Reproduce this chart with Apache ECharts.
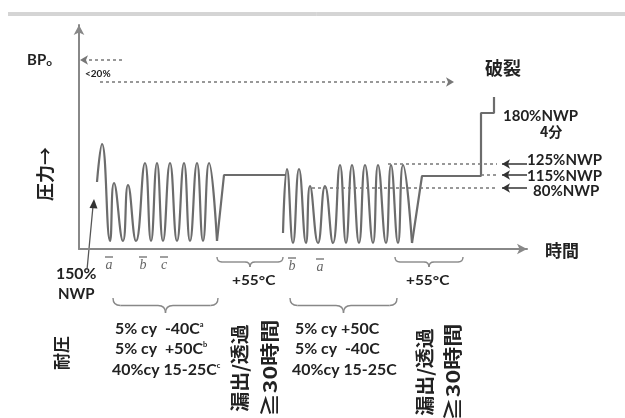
<!DOCTYPE html>
<html>
<head>
<meta charset="utf-8">
<script src="https://cdn.jsdelivr.net/npm/echarts@6/dist/echarts.min.js"></script>
<style>
html,body{margin:0;padding:0;background:#fff}
#main{width:625px;height:418px}
</style>
</head>
<body>
<div id="main"></div>
<script>
// 圧力サイクル試験の模式図（時間・圧力は任意単位）
var cycle1 = [[18,67],[23,105],[31,8],[35,66],[44,8],[49,64],[57,8],[66,86],[72,8],[78,86],[84,8],[91,86],[98,8],[105,86],[111,8],[118,86],[124,8],[130,86],[138,8]];
var hold1 = [[138,8],[145,74],[206,74]];
var cycle2 = [[204,16],[208,80],[214,6],[220,80],[227,6],[231,63],[239,6],[246,63],[254,6],[261,84],[267,6],[273,84],[280,6],[286,84],[294,6],[299,84],[307,6],[312,84],[319,6],[324,84],[333,6]];
var hold2 = [[333,6],[343,73],[402,73],[402,136],[415,136],[415,152]];

// 基準レベル 125% / 115% / 80% NWP
var levelNames = ['125%NWP', '115%NWP', '80%NWP'];
var levelValues = [85, 74, 61];
var levelFrom = [309, 402, 233];
var levelTo = 418;
var arrowFrom = 448, arrowTo = 423;

// BPo と <20% の破線矢印
var bpLevel = 189, bpFrom = 43, bpTo = 1;
var burstLevel = 167, burstFrom = 21, burstTo = 375;

var GRAY = '#6c6c6c';
var INK = '#222';
var LAT = 'Lato, "Noto Sans", sans-serif';
var CJK = '"Noto Sans CJK JP", sans-serif';

function seg(x1, x2, y, head) {
    return [{coord: [x1, y], symbol: 'none'}, {coord: [x2, y], symbol: head ? 'arrow' : 'none'}];
}

var dashed = [];
for (var i = 0; i < levelValues.length; i++) {
    dashed.push(seg(levelFrom[i], levelTo, levelValues[i], false));
}
dashed.push(seg(bpFrom, bpTo, bpLevel, true));
dashed.push(seg(burstFrom, burstTo, burstLevel, true));

var pointers = levelValues.map(function (v) { return seg(arrowFrom, arrowTo, v, true); });

// 文字
function txt(x, y, text, size, opt) {
    opt = opt || {};
    return {
        type: 'text', x: x, y: y, rotation: opt.rot || 0, scaleX: opt.sx || 1,
        silent: true,
        style: {
            text: text, fill: opt.color || INK,
            fontFamily: opt.family || LAT, fontSize: size,
            fontWeight: opt.weight || 'bold', fontStyle: opt.style || 'normal',
            align: opt.align || 'left', textAlign: opt.align || 'left',
            verticalAlign: 'middle', textVerticalAlign: 'middle',
            rich: opt.rich
        }
    };
}
var supRich = {
    m: {fontFamily: LAT, fontSize: 15, fontWeight: 'bold', fill: INK},
    s: {fontFamily: LAT, fontSize: 7, fontWeight: 'bold', fill: INK, verticalAlign: 'top', padding: [0, 0, 6, 0]}
};

// 中括弧
function brace(x1, x2, y, h) {
    var xm = (x1 + x2) / 2, r = h / 2;
    var st = {stroke: '#888', fill: null, lineWidth: 1.4};
    function q(ax, ay, cx, cy, bx, by) {
        return {type: 'bezierCurve', silent: true, shape: {x1: ax, y1: ay, cpx1: cx, cpy1: cy, x2: bx, y2: by}, style: st};
    }
    function l(ax, ay, bx, by) {
        return {type: 'line', silent: true, shape: {x1: ax, y1: ay, x2: bx, y2: by}, style: st};
    }
    return [
        q(x1, y, x1, y + r, x1 + r, y + r),
        l(x1 + r, y + r, xm - r, y + r),
        q(xm - r, y + r, xm, y + r, xm, y + h),
        q(xm, y + h, xm, y + r, xm + r, y + r),
        l(xm + r, y + r, x2 - r, y + r),
        q(x2 - r, y + r, x2, y + r, x2, y)
    ];
}
function barLetter(x, y, ch) {
    return [
        {type: 'line', silent: true, shape: {x1: x - 4, y1: y - 8, x2: x + 4, y2: y - 8}, style: {stroke: '#777', lineWidth: 1.4}},
        txt(x, y, ch, 14, {align: 'center', family: '"Liberation Serif", serif', style: 'italic', weight: 'normal', color: '#666'})
    ];
}

var R = Math.PI / 2;
var graphics = [
    {type: 'line', silent: true, shape: {x1: 8, y1: 13, x2: 625, y2: 13}, style: {stroke: '#aaa', lineWidth: 1}},
    {type: 'line', silent: true, shape: {x1: 8, y1: 15, x2: 625, y2: 15}, style: {stroke: '#aaa', lineWidth: 1}},
    txt(27, 60, '{b|BP}{o|o}', 15, {rich: {
        b: {fontFamily: LAT, fontSize: 15, fontWeight: 'bold', fill: INK},
        o: {fontFamily: LAT, fontSize: 10, fontWeight: 'bold', fill: INK, verticalAlign: 'bottom', padding: [6, 0, 0, 0]}
    }}),
    txt(85, 74, '<20%', 10),
    txt(485, 68, '破裂', 18, {family: CJK}),
    txt(503, 116, '180%NWP', 15),
    txt(540, 132, '4分', 14, {family: CJK}),
    txt(527, 160, levelNames[0], 15),
    txt(527, 176, levelNames[1], 15),
    txt(533, 191, levelNames[2], 15),
    txt(545, 251, '時間', 17, {family: CJK}),
    txt(56, 274, '150%', 15, {sx: 1.05}),
    txt(58, 294, 'NWP', 15),
    txt(45, 174, '圧力→', 18, {family: CJK, rot: R, align: 'center'}),
    txt(62, 353, '耐圧', 17, {family: CJK, rot: R, align: 'center'}),
    txt(240, 368, '漏出/透過', 19, {family: CJK, rot: R, align: 'center', sx: 1.05}),
    txt(270, 368, '≧30時間', 19, {family: CJK, rot: R, align: 'center', sx: 1.22}),
    txt(425, 372, '漏出/透過', 19, {family: CJK, rot: R, align: 'center', sx: 1.05}),
    txt(453, 372, '≧30時間', 19, {family: CJK, rot: R, align: 'center', sx: 1.22}),
    txt(232, 280, '+55°C', 14, {sx: 1.1}),
    txt(406, 280, '+55°C', 14, {sx: 1.1}),
    txt(115, 329, '{m|5% cy  -40C}{s|a}', 15, {rich: supRich, sx: 1.06}),
    txt(115, 349, '{m|5% cy  +50C}{s|b}', 15, {rich: supRich, sx: 1.06}),
    txt(112, 370, '{m|40%cy 15-25C}{s|c}', 15, {rich: supRich, sx: 1.06}),
    txt(295, 329, '5% cy +50C', 15, {sx: 1.06}),
    txt(295, 349, '5% cy  -40C', 15, {sx: 1.06}),
    txt(292, 370, '40%cy 15-25C', 15, {sx: 1.06}),
    {type: 'line', silent: true, shape: {x1: 87, y1: 270, x2: 93, y2: 206}, style: {stroke: '#555', lineWidth: 1.3}},
    {type: 'polygon', silent: true, shape: {points: [[94, 199], [89.5, 208], [97.5, 208.5]]}, style: {fill: '#333'}}
]
.concat(brace(217, 283, 257, 10))
.concat(brace(395, 463, 257, 10))
.concat(brace(113, 218, 298, 15))
.concat(brace(290, 397, 298, 15))
.concat(barLetter(109, 265, 'a'))
.concat(barLetter(143, 265, 'b'))
.concat(barLetter(164, 265, 'c'))
.concat(barLetter(292, 266, 'b'))
.concat(barLetter(320, 267, 'a'));

var myChart = echarts.init(document.getElementById('main'));
myChart.setOption({
    animation: false,
    backgroundColor: '#fff',
    grid: {left: 79, right: 98, top: 25, bottom: 169},
    xAxis: {
        type: 'value', min: 0, max: 448,
        axisLine: {show: true, symbol: ['none', 'arrow'], symbolSize: [8, 10], lineStyle: {color: '#888', width: 2}},
        axisTick: {show: false}, axisLabel: {show: false}, splitLine: {show: false}
    },
    yAxis: {
        type: 'value', min: 0, max: 224,
        axisLine: {show: true, symbol: ['none', 'arrow'], symbolSize: [8, 10], lineStyle: {color: '#888', width: 2}},
        axisTick: {show: false}, axisLabel: {show: false}, splitLine: {show: false}
    },
    series: [
        {
            type: 'line', data: cycle1, smooth: 0.5, symbol: 'none', silent: true,
            lineStyle: {color: GRAY, width: 2.2}
        },
        {
            type: 'line', data: cycle2, smooth: 0.5, symbol: 'none', silent: true,
            lineStyle: {color: GRAY, width: 2.2}
        },
        {
            type: 'line', data: hold1, symbol: 'none', silent: true,
            lineStyle: {color: GRAY, width: 2.2},
            markLine: {
                silent: true, symbolSize: [7, 8], label: {show: false},
                lineStyle: {color: '#777', type: [3, 3], width: 1.5},
                data: dashed
            }
        },
        {
            type: 'line', data: hold2, symbol: 'none', silent: true,
            lineStyle: {color: GRAY, width: 2.2},
            markLine: {
                silent: true, symbolSize: [7, 8], label: {show: false},
                lineStyle: {color: '#333', type: 'solid', width: 1.5},
                data: pointers
            }
        }
    ],
    graphic: graphics
});
</script>
</body>
</html>
